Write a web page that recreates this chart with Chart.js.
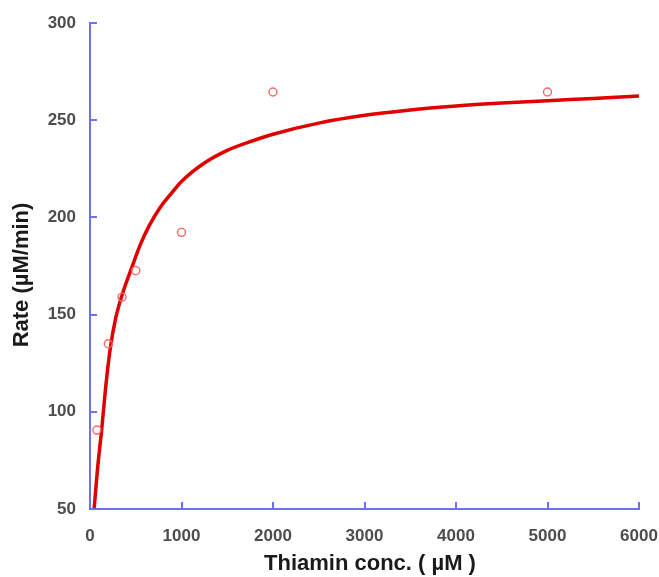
<!DOCTYPE html>
<html><head><meta charset="utf-8">
<script src="https://cdn.jsdelivr.net/npm/chart.js@4"></script>
<style>html,body{margin:0;padding:0;background:#fff;overflow:hidden}</style>
</head><body>
<canvas id="c" width="659" height="577"></canvas>
<script>
// Measured data points (thiamin concentration, µM -> rate, µM/min)
const concentrations = [75, 200, 350, 500, 1000, 2000, 5000];
const rates = [90.6, 135, 159, 172.6, 192.3, 264.5, 264.5];

// Fitted curve
const fitConc = [45, 85, 128, 170, 220, 280, 350, 455, 550, 650, 765, 900, 1000, 1250, 1500, 1750, 2000, 2500, 3000, 3500, 4000, 4500, 5000, 5500, 6000];
const fitRate = [50, 72, 91, 112, 132, 148, 160, 174, 186, 196, 205, 213, 218.5, 228, 234.5, 239, 242.8, 248.5, 252.5, 255.3, 257.3, 258.8, 260, 261.2, 262.4];

const xTicks = [0, 1000, 2000, 3000, 4000, 5000, 6000];
const yTicks = [50, 100, 150, 200, 250, 300];
const xTitle = 'Thiamin conc. ( µM )';
const yTitle = 'Rate (µM/min)';

const axisColor = '#6f6ff2';
const fam = 'Liberation Sans, Arial, sans-serif';
const tickFont = {family: fam, size: 17, weight: 'bold'};

const extras = {
  id: 'extras',
  afterDraw(chart) {
    const {ctx, scales: {x, y}} = chart;
    ctx.save();
    ctx.strokeStyle = axisColor;
    ctx.lineWidth = 2;
    ctx.beginPath();
    yTicks.forEach(v => {
      const py = Math.round(y.getPixelForValue(v));
      ctx.moveTo(x.left, py); ctx.lineTo(x.left + 7, py);
    });
    xTicks.forEach(v => {
      const px = Math.round(x.getPixelForValue(v));
      ctx.moveTo(px, y.bottom); ctx.lineTo(px, y.bottom - 7);
    });
    ctx.stroke();
    // axis titles
    ctx.fillStyle = '#1a1a1a';
    ctx.font = 'bold 22px ' + fam;
    ctx.textAlign = 'center';
    ctx.textBaseline = 'middle';
    ctx.fillText(xTitle, 370, 564);
    ctx.translate(22, 275);
    ctx.rotate(-Math.PI / 2);
    ctx.fillText(yTitle, 0, 0);
    ctx.restore();
  }
};

new Chart(document.getElementById('c'), {
  type: 'scatter',
  data: {
    datasets: [
      {
        type: 'line',
        label: 'fit',
        data: fitConc.map((c, i) => ({x: c, y: fitRate[i]})),
        borderColor: '#e00000',
        borderWidth: 3.5,
        pointRadius: 0,
        fill: false,
        cubicInterpolationMode: 'monotone',
        order: 2
      },
      {
        label: 'data',
        data: concentrations.map((c, i) => ({x: c, y: rates[i]})),
        pointStyle: 'circle',
        pointRadius: 4,
        borderColor: '#f06a6a',
        backgroundColor: 'rgba(0,0,0,0)',
        borderWidth: 1.4,
        order: 1
      }
    ]
  },
  options: {
    responsive: false,
    animation: false,
    layout: {padding: {top: 23, right: 20, left: 0, bottom: 0}},
    plugins: {legend: {display: false}, tooltip: {enabled: false}},
    scales: {
      x: {
        type: 'linear', min: 0, max: 6000,
        afterBuildTicks: s => { s.ticks = xTicks.map(v => ({value: v})); },
        afterFit: s => { s.height = 68; s.paddingLeft = 0; s.paddingRight = 0; },
        grid: {display: true, drawOnChartArea: false, drawTicks: false},
        border: {display: true, color: axisColor, width: 2},
        ticks: {color: '#4d4d4d', font: tickFont, padding: 17, maxRotation: 0, callback: v => String(v)}
      },
      y: {
        type: 'linear', min: 50, max: 300,
        afterBuildTicks: s => { s.ticks = yTicks.map(v => ({value: v})); },
        afterFit: s => { s.width = 90; s.paddingTop = 0; s.paddingBottom = 0; },
        grid: {display: true, drawOnChartArea: false, drawTicks: false},
        border: {display: true, color: axisColor, width: 2},
        ticks: {color: '#4d4d4d', font: tickFont, padding: 14, callback: v => String(v)}
      }
    }
  },
  plugins: [extras]
});
</script>
</body></html>
